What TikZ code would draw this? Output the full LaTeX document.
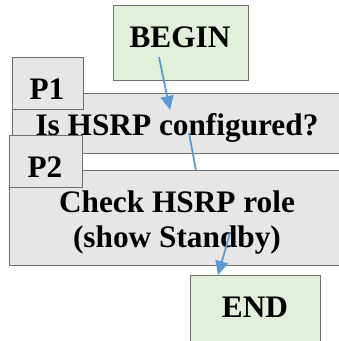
\documentclass[tikz,border=0pt]{standalone}
\usepackage{fontspec}
\setmainfont{Liberation Serif}
\usetikzlibrary{arrows.meta}
\definecolor{boxgreen}{HTML}{E2EFDA}
\definecolor{boxgray}{HTML}{E7E6E6}
\definecolor{edgegray}{HTML}{6F6F6F}
\definecolor{arrowblue}{HTML}{5B9BD5}
\begin{document}
\begin{tikzpicture}[x=1pt,y=-1pt,
  box/.style={draw=edgegray, line width=1pt, inner sep=0pt, anchor=north west},
  greenbox/.style={box, fill=boxgreen},
  graybox/.style={box, fill=boxgray},
  lbl/.style={font=\fontsize{31.3}{36}\selectfont\bfseries, anchor=base, inner sep=0pt},
  conn/.style={draw=arrowblue, line width=1.8pt, -{Triangle[length=14pt,width=13pt]}}]
\useasboundingbox (0,0) rectangle (339,341);
\clip (0,0) rectangle (339,341);
% BEGIN
\node[greenbox, minimum width=135pt, minimum height=75pt] (begin) at (113,5) {};
\node[lbl] (begintxt) at (180,47) {BEGIN};
% Is HSRP configured?
\node[graybox, minimum width=340pt, minimum height=60pt] (q1) at (12,93) {};
\node[lbl] (q1txt) at (177,135) {Is HSRP configured?};
% P1
\node[graybox, minimum width=71pt, minimum height=52pt] (p1) at (12,57) {};
\node[lbl] (p1txt) at (47,99) {P1};
% connectors into / out of the question
\coordinate (a1s) at (159,57);
\coordinate (a1e) at (170,110);
\coordinate (a2s) at (189,133);
\coordinate (a2e) at (200,192);
\draw[conn] (a1s) -- (a1e);
\draw[conn] (a2s) -- (a2e);
% Check HSRP role
\node[graybox, minimum width=340pt, minimum height=95pt] (chk) at (9,170) {};
\node[lbl] (chktxt1) at (177,212) {Check HSRP role};
\node[lbl] (chktxt2) at (177,247) {(show Standby)};
% P2
\node[graybox, minimum width=73pt, minimum height=52pt] (p2) at (9,135) {};
\node[lbl] (p2txt) at (45,177) {P2};
% arrow to END
\coordinate (a3s) at (230,233);
\coordinate (a3e) at (218,275);
\draw[conn] (a3s) -- (a3e);
% END
\node[greenbox, minimum width=130pt, minimum height=80pt] (end) at (190,275) {};
\node[lbl] (endtxt) at (255,317) {END};
\end{tikzpicture}
\end{document}
